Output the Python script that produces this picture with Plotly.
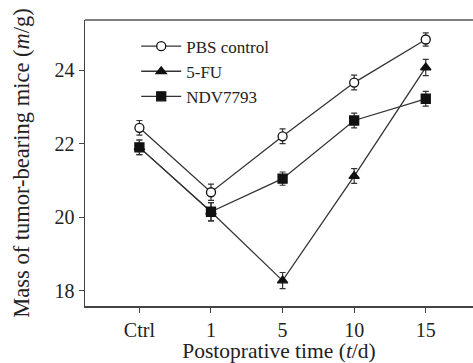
import plotly.graph_objects as go

categories = ["Ctrl", "1", "5", "10", "15"]
pbs = [22.43, 20.68, 22.2, 23.66, 24.83]
pbs_err = [0.2, 0.22, 0.2, 0.2, 0.18]
fu = [21.9, 20.15, 18.28, 21.12, 24.07]
fu_err = [0.2, 0.25, 0.22, 0.2, 0.22]
ndv = [21.9, 20.15, 21.05, 22.63, 23.22]
ndv_err = [0.2, 0.25, 0.18, 0.2, 0.2]
names = ["PBS control", "5-FU", "NDV7793"]

x = list(range(len(categories)))
lc = "#333333"
fig = go.Figure()

def add(y, err, name, symbol, fill, rank):
    fig.add_trace(go.Scatter(
        x=x, y=y, name=name, mode="lines+markers", legendrank=rank,
        line=dict(color=lc, width=1.3),
        marker=dict(symbol=symbol, size=9, color=fill, line=dict(color="#111", width=1.3)),
        error_y=dict(type="data", array=err, color=lc, thickness=1.2, width=3),
    ))

add(fu, fu_err, names[1], "triangle-up", "#111", 2)
add(ndv, ndv_err, names[2], "square", "#111", 3)
add(pbs, pbs_err, names[0], "circle", "white", 1)

font = "Liberation Serif"
fig.update_layout(
    template="none",
    width=473, height=363,
    margin=dict(l=85, r=0, t=20, b=57),
    paper_bgcolor="white", plot_bgcolor="white",
    font=dict(family=font, size=20, color="#222"),
    showlegend=True,
    legend=dict(x=0.132, y=0.97, xanchor="left", yanchor="top",
                bgcolor="rgba(0,0,0,0)", font=dict(size=17, family=font),
                itemwidth=40, tracegroupgap=0, traceorder="normal"),
    xaxis=dict(range=[-0.76, 4.63], tickvals=x, ticktext=categories,
               showline=True, mirror=False, linecolor="#444", linewidth=1.5,
               ticks="outside", ticklen=5, tickcolor="#444", showgrid=False, zeroline=False,
               automargin=False,
               title=dict(text="Postoprative time (<i>t</i>/d)", standoff=6, font=dict(size=21.5))),
    yaxis=dict(range=[17.59, 25.36], tickvals=[18, 20, 22, 24],
               showline=True, mirror=False, linecolor="#444", linewidth=1.5,
               ticks="outside", ticklen=5, tickcolor="#444", showgrid=False, zeroline=False,
               automargin=False,
               title=dict(text="Mass of tumor-bearing mice (<i>m</i>/g)", standoff=18, font=dict(size=22.5))),
    shapes=[dict(type="line", xref="paper", yref="paper", x0=0, x1=1.01, y0=1, y1=1,
                 line=dict(color="#555", width=1.5))],
)
fig.update_xaxes(range=[-0.76, 4.66])
fig.write_html("out.html", config={"displayModeBar": False, "staticPlot": True},
               post_script="document.body.style.margin='0';document.body.style.overflow='hidden';")
